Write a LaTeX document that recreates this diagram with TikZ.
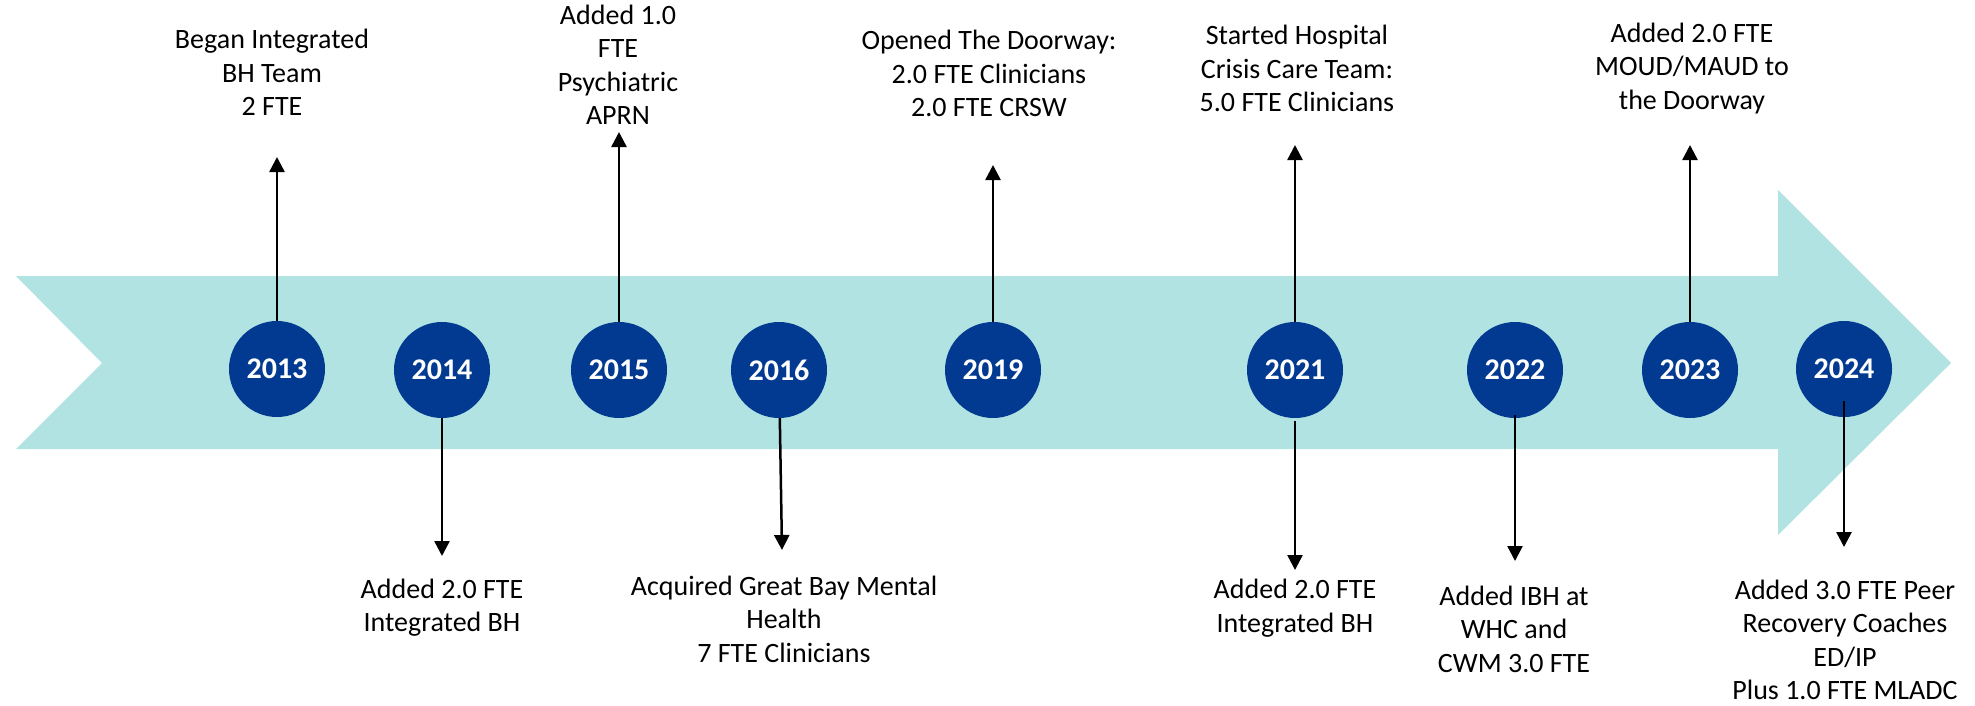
\documentclass[tikz,border=0pt]{standalone}
\usepackage{fontspec}
\setmainfont{Carlito}
\usetikzlibrary{arrows.meta}
\definecolor{bandcol}{RGB}{176,227,225}
\definecolor{dotcol}{RGB}{2,58,146}
\begin{document}
\begin{tikzpicture}[x=1pt,y=-1pt,
  yr/.style={circle,fill=dotcol,minimum size=96pt,inner sep=0pt,text=white,font=\fontsize{30}{36}\selectfont\bfseries},
  lbl/.style={align=center,inner sep=0pt,font=\fontsize{28}{33.5}\selectfont,execute at begin node=\strut,execute at end node=\strut},
  arr/.style={line width=2.5pt,-{Triangle[length=15pt,width=15pt]}}]
\useasboundingbox (0,0) rectangle (1975,705);
% band arrow
\fill[bandcol] (16,276) -- (1778,276) -- (1778,190) -- (1951,363) -- (1778,535) -- (1778,449) -- (16,449) -- (102,363) -- cycle;
% year circles
\node[yr] (c2013) at (277,369) {2013};
\node[yr] (c2014) at (442,370) {2014};
\node[yr] (c2015) at (619,370) {2015};
\node[yr] (c2016) at (779,370) {2016};
\node[yr] (c2019) at (993,370) {2019};
\node[yr] (c2021) at (1295,370) {2021};
\node[yr] (c2022) at (1515,370) {2022};
\node[yr] (c2023) at (1690,370) {2023};
\node[yr] (c2024) at (1844,369) {2024};
% labels above
\node[lbl] (t2013) at (272,77.5) {Began Integrated\\BH Team\\2 FTE};
\node[lbl] (t2015) at (618,70) {Added 1.0\\FTE\\Psychiatric\\APRN};
\node[lbl] (t2019) at (989,78.5) {Opened The Doorway:\\2.0 FTE Clinicians\\2.0 FTE CRSW};
\node[lbl] (t2021) at (1297,73.5) {Started Hospital\\Crisis Care Team:\\5.0 FTE Clinicians};
\node[lbl] (t2023) at (1692,71) {Added 2.0 FTE\\MOUD/MAUD to\\the Doorway};
% labels below
\node[lbl] (b2014) at (442,610.5) {Added 2.0 FTE\\Integrated BH};
\node[lbl] (b2016) at (784,624) {Acquired Great Bay Mental\\Health\\7 FTE Clinicians};
\node[lbl] (b2021) at (1295,611) {Added 2.0 FTE\\Integrated BH};
\node[lbl] (b2022) at (1514,634) {Added IBH at\\WHC and\\CWM 3.0 FTE};
\node[lbl] (b2024) at (1845,645) {Added 3.0 FTE Peer\\Recovery Coaches\\ED/IP\\Plus 1.0 FTE MLADC};
% arrow ends
\coordinate (u2013) at (277,157);
\coordinate (u2015) at (619,132);
\coordinate (u2019) at (993,165);
\coordinate (u2021) at (1295,145);
\coordinate (u2023) at (1690,145);
\coordinate (d2014) at (442,556);
\coordinate (d2016) at (782,550);
\coordinate (d2021) at (1295,570);
\coordinate (d2022) at (1515,561);
\coordinate (d2024) at (1844,547);
% connectors
\draw[arr] (c2013) -- (u2013);
\draw[arr] (c2015) -- (u2015);
\draw[arr] (c2019) -- (u2019);
\draw[arr] (c2021) -- (u2021);
\draw[arr] (c2023) -- (u2023);
\draw[arr] (c2014) -- (d2014);
\draw[arr] (c2016) -- (d2016);
\draw[arr] ([yshift=-3pt]c2021.south) -- (d2021);
\draw[arr] ([yshift=3pt]c2022.south) -- (d2022);
\draw[arr] ([yshift=16pt]c2024.south) -- (d2024);
\end{tikzpicture}
\end{document}
